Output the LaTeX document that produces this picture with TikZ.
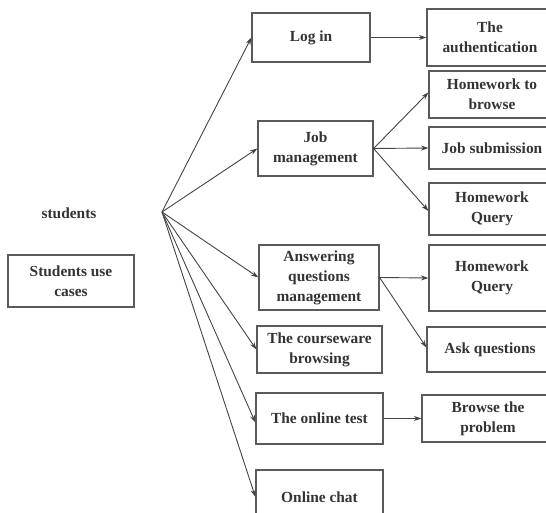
\documentclass[tikz,border=0pt]{standalone}
\usepackage{fontspec}
\setmainfont{Liberation Serif}
\usetikzlibrary{arrows.meta}
\definecolor{boxline}{HTML}{5A5A5A}
\definecolor{arrline}{HTML}{444444}
\definecolor{txt}{HTML}{333333}
\tikzset{
  box/.style={draw=boxline, line width=1.2pt, rectangle, align=center, inner sep=0pt,
    text=txt, font=\fontsize{15.4}{20}\selectfont\bfseries},
  lbl/.style={align=center, text=txt, font=\fontsize{15.4}{20}\selectfont\bfseries},
  arr/.style={draw=arrline, line width=0.9pt, -{Stealth[length=7.5pt,width=5pt]}}
}
\begin{document}
\begin{tikzpicture}[x=1pt,y=-1pt]
\useasboundingbox (0,0) rectangle (546,513);
\clip (0,0) rectangle (546,513);
% left side
\node[lbl] (students) at (69,213) {students};
\node[box, minimum width=126pt, minimum height=52pt] (usecase) at (71,281) {Students use\\cases};
\coordinate (fan) at (162,212);
% middle column
\node[box, minimum width=118pt, minimum height=49pt] (login) at (311,37.5) {Log in};
\node[box, minimum width=115pt, minimum height=55pt] (jobm) at (315.5,148.5) {Job\\management};
\node[box, minimum width=120pt, minimum height=65pt] (answer) at (319,277.5) {Answering\\questions\\management};
\node[box, minimum width=125pt, minimum height=47pt] (course) at (319.5,349.5) {The courseware\\browsing};
\node[box, minimum width=127pt, minimum height=51pt] (test) at (319.5,418.5) {The online test};
\node[box, minimum width=127pt, minimum height=54pt] (chat) at (319.5,497) {Online chat};
% right column
\node[box, minimum width=126pt, minimum height=57pt] (auth) at (490,37.5) {The\\authentication};
\node[box, minimum width=126pt, minimum height=47pt] (hwb) at (492,94.5) {Homework to\\browse};
\node[box, minimum width=126pt, minimum height=42pt] (jsub) at (492,148) {Job submission};
\node[box, minimum width=126pt, minimum height=52pt] (hwq1) at (492,209) {Homework\\Query};
\node[box, minimum width=126pt, minimum height=66pt] (hwq2) at (492,278) {Homework\\Query};
\node[box, minimum width=126pt, minimum height=45pt] (ask) at (490,349.5) {Ask questions};
\node[box, minimum width=132pt, minimum height=47pt] (prob) at (488,418.5) {Browse the\\problem};
% fan arrows
\draw[arr] (fan) -- (login.west);
\draw[arr] (fan) -- (jobm.west);
\draw[arr] (fan) -- (answer.west);
\draw[arr] (fan) -- (course.west);
\draw[arr] (fan) -- ([yshift=-4pt]test.west);
\draw[arr] (fan) -- (chat.west);
% second level arrows
\draw[arr] (login.east) -- (auth.west |- login.east);
\draw[arr] (jobm.east) -- ([yshift=2pt]hwb.west);
\draw[arr] (jobm.east) -- (jsub.west);
\draw[arr] (jobm.east) -- ([yshift=-2pt]hwq1.west);
\draw[arr] (answer.east) -- (hwq2.west);
\draw[arr] (answer.east) -- ([yshift=2pt]ask.west);
\draw[arr] (test.east) -- (prob.west);
\end{tikzpicture}
\end{document}
